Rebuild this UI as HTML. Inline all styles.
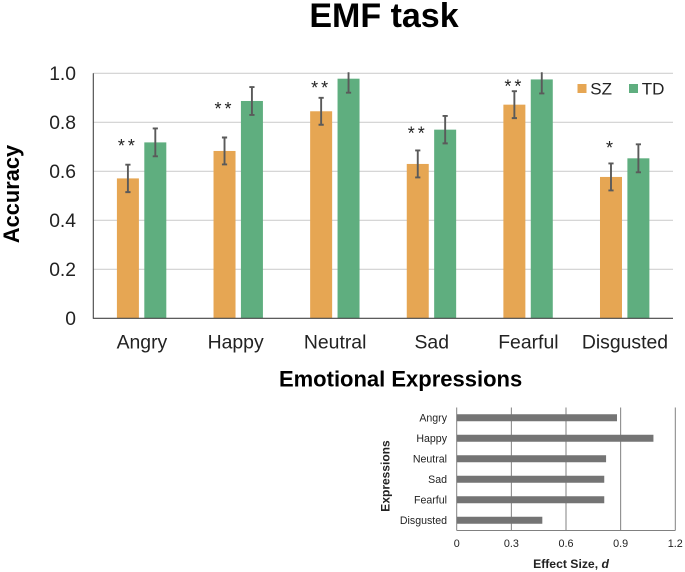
<!DOCTYPE html>
<html>
<head>
<meta charset="utf-8">
<title>EMF task</title>
<style>
html,body{margin:0;padding:0;background:#fff;width:685px;height:572px;overflow:hidden}
svg{display:block;font-family:"Liberation Sans",Arial,sans-serif;filter:blur(0.3px)}
</style>
</head>
<body>
<svg id="fig" width="685" height="572" viewBox="0 0 685 572" xmlns="http://www.w3.org/2000/svg">
  <defs>
    <clipPath id="plot-clip"><rect x="90" y="72.3" width="590" height="250"/></clipPath>
  </defs>
  <text x="384" y="27" font-size="34" font-weight="bold" text-anchor="middle" fill="#000">EMF task</text>
  <g id="main"></g>
  <g id="inset"></g>
</svg>
<script>
var categories = ['Angry', 'Happy', 'Neutral', 'Sad', 'Fearful', 'Disgusted'];
var szValues = [0.571, 0.683, 0.845, 0.63, 0.872, 0.577];
var tdValues = [0.718, 0.887, 0.978, 0.77, 0.975, 0.653];
var szErrors = [0.056, 0.055, 0.055, 0.055, 0.055, 0.055];
var tdErrors = [0.057, 0.057, 0.057, 0.056, 0.057, 0.057];
var significance = ['**', '**', '**', '**', '**', '*'];
var significanceLevels = [0.711, 0.862, 0.949, 0.762, 0.955, 0.703];
var yTicks = [0, 0.2, 0.4, 0.6, 0.8, 1.0];
var yTickLabels = ['0', '0.2', '0.4', '0.6', '0.8', '1.0'];
var effectSizes = [0.88, 1.08, 0.82, 0.81, 0.81, 0.47];
var effectTicks = [0, 0.3, 0.6, 0.9, 1.2];
var effectTickLabels = ['0', '0.3', '0.6', '0.9', '1.2'];

var NS = 'http://www.w3.org/2000/svg';
function mk(parent, tag, attrs, txt) {
  var el = document.createElementNS(NS, tag);
  for (var k in attrs) el.setAttribute(k, attrs[k]);
  if (txt !== undefined) el.textContent = txt;
  parent.appendChild(el);
  return el;
}

/* main chart */
var main = document.getElementById('main');
var left = 93.3, right = 673, y0 = 318.3, y1 = 73.3;
var band = (right - left) / categories.length;
function yScale(v) { return y0 - v * (y0 - y1); }
function xCenter(i) { return left + band * (i + 0.5); }

yTicks.forEach(function (t, i) {
  var y = yScale(t);
  if (t !== 0) {
    var g = mk(main, 'line', {x1: left, x2: right, y1: y, y2: y, stroke: '#d0d0d0', 'stroke-width': 1.1});
    
    
  }
  var lab = mk(main, 'text', {x: 76, y: y + 6.8, 'font-size': 19.3, 'text-anchor': 'end', fill: '#222'}, yTickLabels[i]);
  
  
});

var yAxis = mk(main, 'line', {x1: left, x2: left, y1: y1, y2: y0 + 0.5, stroke: '#444', 'stroke-width': 1.1});



function drawBar(i, value, err, offset, color, name) {
  var cx = xCenter(i) + offset;
  var bar = mk(main, 'rect', {x: cx - 11, y: yScale(value), width: 22, height: y0 - yScale(value), fill: color});
  
  
  var eg = mk(main, 'g', {stroke: '#5a5a5a', 'stroke-width': 1.9, 'clip-path': 'url(#plot-clip)'});
  
  
  var top = yScale(value + err), bot = yScale(value - err);
  mk(eg, 'line', {x1: cx, x2: cx, y1: top, y2: bot});
  mk(eg, 'line', {x1: cx - 2.6, x2: cx + 2.6, y1: top, y2: top});
  mk(eg, 'line', {x1: cx - 2.6, x2: cx + 2.6, y1: bot, y2: bot});
}

categories.forEach(function (c, i) {
  drawBar(i, szValues[i], szErrors[i], -13.7, '#e6a653', 'sz');
  drawBar(i, tdValues[i], tdErrors[i], 13.7, '#5fae7f', 'td');
  var double = significance[i].length > 1;
  var star = mk(main, 'text', {
    x: xCenter(i) - 13.7 + (double ? 0 : -1.5), y: yScale(significanceLevels[i]) + 8,
    'font-size': 18, 'text-anchor': 'middle', 'letter-spacing': double ? 3 : 0, fill: '#222'
  }, significance[i]);
  
  
  var lab = mk(main, 'text', {x: xCenter(i) + (c === 'Happy' ? -2.6 : 0.3), y: 348.3, 'font-size': 19.4, 'text-anchor': 'middle', fill: '#222'}, c);
  
  
});

var xAxis = mk(main, 'line', {x1: left, x2: right, y1: y0, y2: y0, stroke: '#444', 'stroke-width': 1.1});



var yTitle = mk(main, 'text', {x: 0, y: 0, transform: 'translate(19 194) rotate(-90)', 'font-size': 21.8, 'font-weight': 'bold', 'text-anchor': 'middle', fill: '#000'}, 'Accuracy');



var xTitle = mk(main, 'text', {x: 400.6, y: 386.7, 'font-size': 22, 'font-weight': 'bold', 'text-anchor': 'middle', fill: '#000'}, 'Emotional Expressions');



/* legend */
var legend = mk(main, 'g', {});


var swatchSz = mk(legend, 'rect', {x: 577.5, y: 84, width: 9, height: 9, fill: '#e6a653'});


var labelSz = mk(legend, 'text', {x: 590.3, y: 94.3, 'font-size': 17, fill: '#222'}, 'SZ');


var swatchTd = mk(legend, 'rect', {x: 629, y: 84, width: 9, height: 9, fill: '#5fae7f'});


var labelTd = mk(legend, 'text', {x: 641.8, y: 94.3, 'font-size': 17, fill: '#222'}, 'TD');



/* inset chart */
var inset = document.getElementById('inset');
var ix0 = 456.7, ix1 = 675.3, iTop = 407.5, iBot = 530.5, iMax = 1.2;
var iBand = (iBot - iTop) / categories.length;
function ixScale(v) { return ix0 + v / iMax * (ix1 - ix0); }
function iyCenter(i) { return iTop + iBand * (i + 0.5); }

effectTicks.forEach(function (t, i) {
  var x = ixScale(t);
  var g = mk(inset, 'line', {x1: x, x2: x, y1: iTop, y2: iBot, stroke: '#808080', 'stroke-width': 1});
  
  
  var lab = mk(inset, 'text', {x: x, y: 547, 'font-size': 10.8, 'text-anchor': 'middle', fill: '#222'}, effectTickLabels[i]);
  
  
});
var iBase = mk(inset, 'line', {x1: ix0, x2: ix1, y1: iBot, y2: iBot, stroke: '#808080', 'stroke-width': 1});



categories.forEach(function (c, i) {
  var cy = iyCenter(i);
  var bar = mk(inset, 'rect', {x: ix0, y: cy - 3.5, width: ixScale(effectSizes[i]) - ix0, height: 7, fill: '#747474'});
  
  
  var lab = mk(inset, 'text', {x: 447, y: cy + 3.7, 'font-size': 10.6, 'text-anchor': 'end', fill: '#222'}, c);
  
  
});

var iY = mk(inset, 'text', {x: 0, y: 0, transform: 'translate(389.5 476) rotate(-90)', 'font-size': 12, 'font-weight': 'bold', 'text-anchor': 'middle', fill: '#222'}, 'Expressions');



var iX = mk(inset, 'text', {x: 571, y: 568, 'font-size': 12.2, 'font-weight': 'bold', 'text-anchor': 'middle', fill: '#222'});


mk(iX, 'tspan', {}, 'Effect Size, ');
mk(iX, 'tspan', {'font-style': 'italic'}, 'd');
</script>
</body>
</html>
